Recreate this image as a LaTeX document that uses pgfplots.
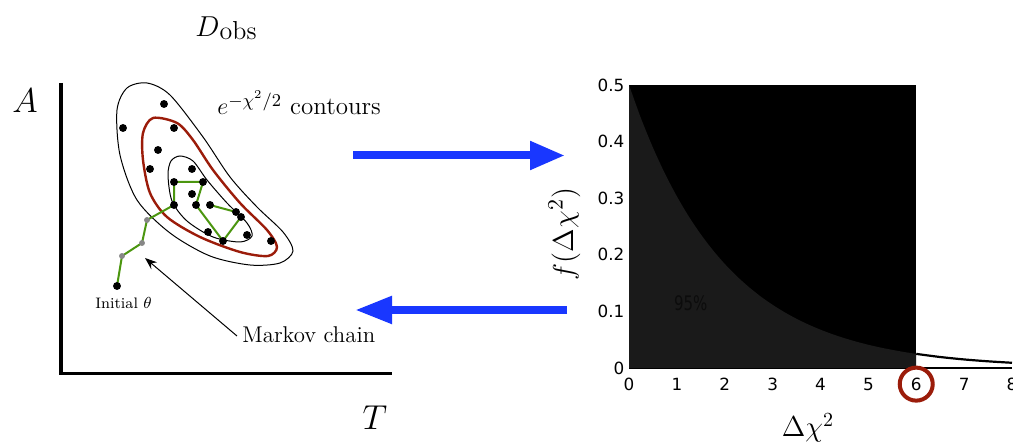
\documentclass[border=0pt]{standalone}
\usepackage{pgfplots}
\pgfplotsset{compat=1.18}
\usepackage{fontspec}
\usetikzlibrary{arrows.meta}
\newfontfamily\dejavu{DejaVu Sans}
\newfontfamily\dejavucond[FakeStretch=0.75]{DejaVu Sans}
\definecolor{arrowblue}{RGB}{25,55,255}
\definecolor{darkred}{RGB}{155,28,10}
\definecolor{chaingreen}{RGB}{75,150,15}
\definecolor{dotgray}{RGB}{135,135,135}
\definecolor{areagray}{HTML}{1A1A1A}
\definecolor{txt95}{HTML}{0C0C0C}
\begin{document}
\begin{tikzpicture}
% ---------------- overlay (pixel coordinates) ----------------
\begin{axis}[at={(0,0)}, anchor=south west,
  width=506.5pt, height=221pt, scale only axis,
  xmin=0, xmax=1013, ymin=0, ymax=442, y dir=reverse,
  hide axis, clip=false]
% L-shaped axes
\addplot[black, line width=1.6pt, line join=miter] coordinates {(61,83) (61,373.5) (392,373.5)};
% contours
\addplot[black, line width=0.5pt, smooth cycle] coordinates {
 (147,83) (170,95) (203,137) (230,177) (257,207) (283,232) (293,251) (280,263)
 (250,265) (210,256) (170,233) (137,200) (120,155) (117,110) (127,88)};
\addplot[darkred, line width=1.2pt, smooth cycle] coordinates {
 (153,118) (177,123) (193,140) (213,170) (240,203) (267,230) (277,247) (268,256)
 (240,252) (200,237) (167,217) (150,193) (143,160) (143,133)};
\addplot[black, line width=0.5pt, smooth cycle] coordinates {
 (180,156) (193,161) (207,180) (227,203) (247,223) (252,236) (240,242) (213,237)
 (187,221) (172,201) (168,175) (171,161)};
% Markov chain
\addplot[chaingreen, line width=1pt, line join=round] coordinates {
 (117,286) (122,256) (142,243) (147,220) (174,205) (174,182) (203,182) (196,205)
 (223,241) (241,217) (236,212) (210,205)};
\addplot[only marks, mark=*, mark size=1.75pt, black] coordinates {
 (164,104) (123,128) (174,128) (158,150) (150,169) (192,169) (174,182) (203,182)
 (192,194) (174,205) (196,205) (210,205) (236,212) (241,217) (208,232) (247,235)
 (223,241) (271,241) (117,286)};
\addplot[only marks, mark=*, mark size=1.25pt, dotgray, mark options={draw=dotgray, fill=dotgray}] coordinates {
 (147,220) (142,243) (122,256)};
% Markov chain pointer
\addplot[black, line width=0.5pt, -{Stealth[length=6pt, width=4.5pt]}] coordinates {(237,336) (145,258)};
% blue arrows
\addplot[arrowblue, line width=4pt, -{Triangle[length=17.5pt, width=13.5pt]}] coordinates {(353,155.5) (565,155.5)};
\addplot[arrowblue, line width=4pt, -{Triangle[length=18.5pt, width=13pt]}] coordinates {(567,310) (355,310)};
% labels
\node[anchor=base, inner sep=0] at (axis cs:226,37) {{\fontsize{15}{17}\selectfont$D$}\raisebox{-1.5pt}{\fontsize{13}{15}\selectfont obs}};
\node[anchor=base, inner sep=0, font=\fontsize{18}{20}\selectfont] at (axis cs:25,113) {$A$};
\node[anchor=base, inner sep=0, font=\fontsize{17}{20}\selectfont] at (axis cs:375,430) {$T$};
\node[anchor=base west, inner sep=0, font=\fontsize{12.5}{15}\selectfont] at (axis cs:217,115) {$e^{-\chi^2/2}$ contours};
\node[anchor=base west, inner sep=0, font=\fontsize{11.4}{14}\selectfont] at (axis cs:242,343) {Markov chain};
\node[anchor=base west, inner sep=0, font=\fontsize{7.6}{9}\selectfont] at (axis cs:95,309) {Initial $\theta$};
\node[anchor=base, inner sep=0, font=\fontsize{14.5}{17}\selectfont] at (axis cs:808,437) {$\Delta\chi^2$};
\node[anchor=base, rotate=90, inner sep=0, font=\fontsize{15}{17}\selectfont] at (axis cs:573,234) {$f(\Delta\chi^2)$};
\end{axis}
% ---------------- chi-square distribution ----------------
\begin{axis}[at={(314.5pt,37pt)}, anchor=south west,
  width=191.5pt, height=141.5pt, scale only axis,
  xmin=0, xmax=8, ymin=0, ymax=0.5, clip=false,
  axis x line*=bottom, axis y line*=left,
  x axis line style={-, black, line width=1.1pt},
  y axis line style={-, draw=none},
  major tick length=0pt, tick style={draw=none},
  xtick={0,1,2,3,4,5,6,7,8}, xticklabels={0,1,2,3,4,5,6,7,8},
  ytick={0,0.1,0.2,0.3,0.4,0.5}, yticklabels={0,0.1,0.2,0.3,0.4,0.5},
  ticklabel style={font=\dejavu\fontsize{8.4}{10}\selectfont},
  xticklabel style={yshift=-1.5pt},
  yticklabel style={xshift=1.2pt}]
\addplot[fill=black, draw=none] coordinates {(0,0.5) (6,0.5)} \closedcycle;
\addplot[fill=areagray, draw=none, smooth] coordinates {
 (0,0.5) (0.25,0.4412) (0.5,0.3894) (0.75,0.3436) (1,0.3033) (1.25,0.2676)
 (1.5,0.2362) (1.75,0.2084) (2,0.1839) (2.25,0.1623) (2.5,0.1433) (2.75,0.1264)
 (3,0.1116) (3.25,0.0985) (3.5,0.0869) (3.75,0.0767) (4,0.0677) (4.25,0.0597)
 (4.5,0.0527) (4.75,0.0465) (5,0.0410) (5.25,0.0362) (5.5,0.0320) (5.75,0.0282)
 (6,0.0249)} \closedcycle;
\addplot[black, line width=1.1pt, smooth] coordinates {
 (6,0.0249) (6.5,0.0194) (7,0.0151) (7.5,0.0118) (8,0.0092)};
\node[font=\dejavucond\fontsize{10}{12}\selectfont, text=txt95, inner sep=0] at (axis cs:1.29,0.114) {95\%};
\draw[darkred, line width=2pt] (axis cs:6,-0.0285) circle[radius=8.25pt];
\end{axis}
\pgfresetboundingbox
\useasboundingbox (0,0) rectangle (506.5pt,221pt);
\end{tikzpicture}
\end{document}
